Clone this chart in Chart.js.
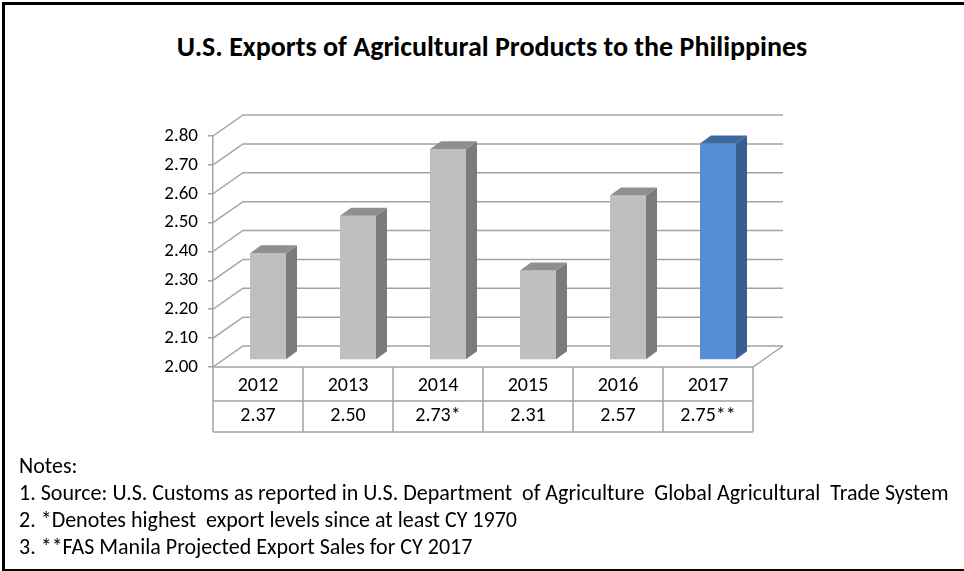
<!DOCTYPE html>
<html>
<head>
<meta charset="utf-8">
<script src="https://cdn.jsdelivr.net/npm/chart.js@4.4.1/dist/chart.umd.min.js"></script>
<style>
  body { margin: 0; background: #fff; }
  #wrap { position: relative; width: 964px; height: 571px; overflow: hidden;
          font-family: Carlito, Calibri, "Liberation Sans Narrow", "Open Sans", sans-serif; color: #000; }
  #frame { position: absolute; left: 2px; top: 2px; width: 970px; height: 564px;
           border-left: 3px solid #000; border-top: 3px solid #000; border-bottom: 3px solid #000; }
  #title { position: absolute; left: 0; width: 984px; top: 29px; text-align: center;
           font-weight: bold; font-size: 28px; }
  #notes { position: absolute; left: 19px; top: 452px; font-size: 22px; line-height: 27px; }
  canvas { position: absolute; left: 0; top: 0; }
</style>
</head>
<body>
<div id="wrap">
  <div id="frame"></div>
  <div id="title">U.S. Exports of Agricultural Products to the Philippines</div>
  <canvas id="chart" width="964" height="571"></canvas>
  <div id="notes">
    <div>Notes:</div>
    <div>1. Source: U.S. Customs as reported in U.S. Department&nbsp; of Agriculture&nbsp; Global Agricultural&nbsp; Trade System</div>
    <div>2. *Denotes highest&nbsp; export levels since at least CY 1970</div>
    <div>3. **FAS Manila Projected Export Sales for CY 2017</div>
  </div>
</div>
<script>
const years = ['2012', '2013', '2014', '2015', '2016', '2017'];
const exportsBn = [2.37, 2.50, 2.73, 2.31, 2.57, 2.75];
const tableLabels = ['2.37', '2.50', '2.73*', '2.31', '2.57', '2.75**'];
const barColors = ['#bfbfbf', '#bfbfbf', '#bfbfbf', '#bfbfbf', '#bfbfbf', '#558ed5'];
const sideColors = ['#7b7b7b', '#7b7b7b', '#7b7b7b', '#7b7b7b', '#7b7b7b', '#375f8f'];
const topColors = ['#8f8f8f', '#8f8f8f', '#8f8f8f', '#8f8f8f', '#8f8f8f', '#3d69a3'];

const FONT = 'Carlito, Calibri, "Liberation Sans Narrow", "Open Sans", sans-serif';
const depth = { x: 30, y: -21 };   // back wall offset
const barShift = { x: 10, y: -7 }; // bars stand a bit behind the front plane
const barDepth = { x: 11, y: -8 };
const gridColor = '#a3a3a3';

const walls3d = {
  id: 'walls3d',
  beforeDatasetsDraw(chart) {
    const ctx = chart.ctx, a = chart.chartArea, y = chart.scales.y;
    ctx.save();
    ctx.strokeStyle = gridColor;
    ctx.lineWidth = 1.5;
    y.ticks.forEach(t => {
      const py = y.getPixelForValue(t.value);
      ctx.beginPath();
      ctx.moveTo(a.left, py);
      ctx.lineTo(a.left + depth.x, py + depth.y);
      ctx.lineTo(a.right + depth.x, py + depth.y);
      ctx.stroke();
    });
    // floor right edge
    ctx.beginPath();
    ctx.moveTo(a.right, a.bottom);
    ctx.lineTo(a.right + depth.x, a.bottom + depth.y);
    ctx.stroke();
    ctx.restore();
    ctx.save();
    ctx.translate(barShift.x, barShift.y);
  },
  afterDatasetsDraw(chart) {
    const ctx = chart.ctx;
    chart.getDatasetMeta(0).data.forEach((bar, i) => {
      const x0 = bar.x - bar.width / 2, x1 = bar.x + bar.width / 2;
      const top = bar.y, bottom = bar.base;
      ctx.fillStyle = sideColors[i];
      ctx.beginPath();
      ctx.moveTo(x1, top);
      ctx.lineTo(x1 + barDepth.x, top + barDepth.y);
      ctx.lineTo(x1 + barDepth.x, bottom + barDepth.y);
      ctx.lineTo(x1, bottom);
      ctx.closePath();
      ctx.fill();
      ctx.fillStyle = topColors[i];
      ctx.beginPath();
      ctx.moveTo(x0, top);
      ctx.lineTo(x0 + barDepth.x, top + barDepth.y);
      ctx.lineTo(x1 + barDepth.x, top + barDepth.y);
      ctx.lineTo(x1, top);
      ctx.closePath();
      ctx.fill();
    });
    ctx.restore();
  },
  afterDraw(chart) {
    // data table under the floor
    const ctx = chart.ctx, a = chart.chartArea, x = chart.scales.x;
    const rowMid = 401, tBottom = 432;
    const step = (a.right - a.left) / years.length;
    ctx.save();
    ctx.strokeStyle = gridColor;
    ctx.lineWidth = 1.5;
    ctx.beginPath();
    ctx.moveTo(a.left, a.bottom); ctx.lineTo(a.right, a.bottom);
    ctx.moveTo(a.left, rowMid); ctx.lineTo(a.right, rowMid);
    ctx.moveTo(a.left, tBottom); ctx.lineTo(a.right, tBottom);
    for (let i = 0; i <= years.length; i++) {
      const px = a.left + i * step;
      ctx.moveTo(px, a.bottom); ctx.lineTo(px, tBottom);
    }
    ctx.stroke();
    ctx.fillStyle = '#000';
    ctx.font = '20px ' + FONT;
    ctx.textAlign = 'center';
    ctx.textBaseline = 'middle';
    years.forEach((yr, i) => {
      const px = x.getPixelForValue(i);
      ctx.fillText(yr, px, 386);
      ctx.fillText(tableLabels[i], px, 416);
    });
    ctx.restore();
  }
};

new Chart(document.getElementById('chart'), {
  type: 'bar',
  data: {
    labels: years,
    datasets: [{
      data: exportsBn,
      base: 2.0,
      backgroundColor: barColors,
      borderWidth: 0,
      barPercentage: 0.4,
      categoryPercentage: 1,
      clip: false
    }]
  },
  options: {
    responsive: false,
    animation: false,
    devicePixelRatio: 1,
    layout: { padding: { left: 0, top: 136, right: 211, bottom: 204 } },
    plugins: { legend: { display: false }, tooltip: { enabled: false }, title: { display: false } },
    scales: {
      x: { display: false, offset: true },
      y: {
        min: 2.0, max: 2.8,
        afterFit: s => { s.width = 213; },
        ticks: { stepSize: 0.1, padding: 10, color: '#000',
                 font: { family: FONT, size: 19 },
                 callback: v => v.toFixed(2) },
        grid: { drawOnChartArea: false, drawTicks: true, tickLength: 5, color: gridColor, lineWidth: 1.5 },
        border: { display: true, color: gridColor, width: 1.5 }
      }
    }
  },
  plugins: [walls3d]
});
</script>
</body>
</html>
